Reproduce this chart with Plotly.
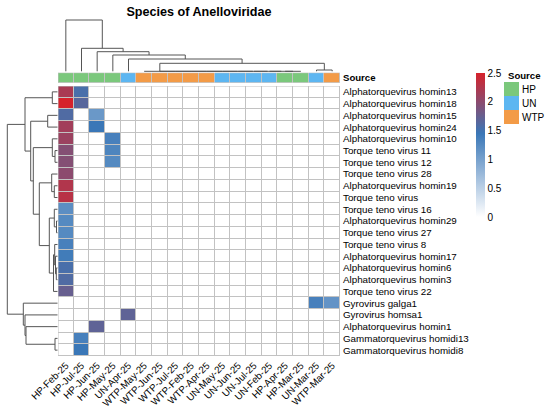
import plotly.graph_objects as go

W, H = 550, 408
FONT = "Liberation Sans, Arial, sans-serif"

# --- data -------------------------------------------------------------
columns = ["HP-Feb-25", "HP-Jul-25", "HP-Jun-25", "HP-May-25", "UN-Apr-25",
           "WTP-May-25", "WTP-Jun-25", "WTP-Jul-25", "WTP-Feb-25", "WTP-Apr-25",
           "UN-May-25", "UN-Jun-25", "UN-Jul-25", "UN-Feb-25", "HP-Apr-25",
           "HP-Mar-25", "UN-Mar-25", "WTP-Mar-25"]

rows = ["Alphatorquevirus homin13", "Alphatorquevirus homin18", "Alphatorquevirus homin15",
        "Alphatorquevirus homin24", "Alphatorquevirus homin10", "Torque teno virus 11",
        "Torque teno virus 12", "Torque teno virus 28", "Alphatorquevirus homin19",
        "Torque teno virus", "Torque teno virus 16", "Alphatorquevirus homin29",
        "Torque teno virus 27", "Torque teno virus 8", "Alphatorquevirus homin17",
        "Alphatorquevirus homin6", "Alphatorquevirus homin3", "Torque teno virus 22",
        "Gyrovirus galga1", "Gyrovirus homsa1", "Alphatorquevirus homin1",
        "Gammatorquevirus homidi13", "Gammatorquevirus homidi8"]

# values per sample (one entry per species, same order as rows); other samples are all 0
hp_feb_25 = [2.2, 2.5, 1.6, 2.15, 2.1, 1.95, 1.95, 2.0, 2.25, 2.3, 1.2, 1.25,
             1.25, 1.35, 1.4, 1.55, 1.6, 1.75, 0, 0, 0, 0, 0]
hp_jul_25 = [1.55, 1.65, 0, 0, 0, 0, 0, 0, 0, 0, 0, 0,
             0, 0, 0, 0, 0, 0, 0, 0, 0, 1.35, 1.45]
hp_jun_25 = [0, 0, 1.1, 1.45, 0, 0, 0, 0, 0, 0, 0, 0,
             0, 0, 0, 0, 0, 0, 0, 0, 1.7, 0, 0]
hp_may_25 = [0, 0, 0, 0, 1.35, 1.3, 1.25, 0, 0, 0, 0, 0,
             0, 0, 0, 0, 0, 0, 0, 0, 0, 0, 0]
un_apr_25 = [0, 0, 0, 0, 0, 0, 0, 0, 0, 0, 0, 0,
             0, 0, 0, 0, 0, 0, 0, 1.7, 0, 0, 0]
un_mar_25 = [0, 0, 0, 0, 0, 0, 0, 0, 0, 0, 0, 0,
             0, 0, 0, 0, 0, 0, 1.35, 0, 0, 0, 0]
wtp_mar_25 = [0, 0, 0, 0, 0, 0, 0, 0, 0, 0, 0, 0,
              0, 0, 0, 0, 0, 0, 1.15, 0, 0, 0, 0]

sample_values = {"HP-Feb-25": hp_feb_25, "HP-Jul-25": hp_jul_25, "HP-Jun-25": hp_jun_25,
                 "HP-May-25": hp_may_25, "UN-Apr-25": un_apr_25, "UN-Mar-25": un_mar_25,
                 "WTP-Mar-25": wtp_mar_25}

sources = ["HP", "UN", "WTP"]
source_colors = ["#7bc87c", "#5db6f1", "#f39b47"]

# hclust-style merges: (left, right, height); leaves 0..n-1, merge k -> id n+k
col_linkage = [(14, 15, 0), (13, 18, 0), (12, 19, 0), (11, 20, 0), (10, 21, 0),
               (9, 22, 0), (8, 23, 0), (7, 24, 0), (6, 25, 0), (5, 26, 0),
               (16, 17, 1.3), (27, 28, 8.0), (4, 29, 12.3), (3, 30, 16.3),
               (2, 31, 19.6), (1, 32, 23.0), (0, 33, 51.3)]
row_linkage = [(0, 1, 5.2), (2, 3, 9.8), (5, 6, 2.5), (4, 25, 5.2), (8, 9, 3.2),
               (7, 27, 5.8), (11, 12, 1.0), (10, 29, 3.2), (15, 16, 1.2), (14, 31, 2.0),
               (13, 32, 2.8), (33, 17, 4.0), (30, 34, 8.2), (28, 35, 18.2), (26, 36, 24.2),
               (24, 37, 26.8), (23, 38, 32.5), (21, 22, 2.5), (20, 40, 31.5),
               (19, 41, 32.5), (18, 42, 34.2), (39, 43, 50.2)]


def dendro(linkage, n):
    pos = {i: float(i) for i in range(n)}
    hgt = {i: 0.0 for i in range(n)}
    p, h = [], []
    for k, (a, b, d) in enumerate(linkage):
        p += [pos[a], pos[a], pos[b], pos[b], None]
        h += [hgt[a], d, d, hgt[b], None]
        pos[n + k] = (pos[a] + pos[b]) / 2
        hgt[n + k] = d
    return p, h


z = [[sample_values.get(c, [0] * len(rows))[r] for c in columns] for r in range(len(rows))]
src_code = [sources.index(c.split("-")[0]) for c in columns]

fig = go.Figure()

# grey cell borders (background) + values
fig.add_trace(go.Heatmap(z=[[1] * len(columns) for _ in rows], colorscale=[[0, "#c2c2c2"], [1, "#c2c2c2"]],
                         showscale=False, hoverinfo="skip", xaxis="x", yaxis="y"))
fig.add_trace(go.Heatmap(
    z=z, x=list(range(len(columns))), y=list(range(len(rows))),
    xgap=1, ygap=1, zmin=0, zmax=2.5,
    colorscale=[[0, "#ffffff"], [0.58, "#3a77b7"], [1, "#d6222b"]],
    colorbar=dict(xref="container", yref="container", x=476 / W, xanchor="left",
                  y=1 - 73 / H, yanchor="top", xpad=0, ypad=0,
                  lenmode="pixels", len=144, thickness=9, outlinewidth=0,
                  tickvals=[0, 0.5, 1, 1.5, 2, 2.5], ticktext=["0", "0.5", "1", "1.5", "2", "2.5"],
                  ticks="", ticklabelposition="outside", tickfont=dict(size=10, color="black")),
    xaxis="x", yaxis="y", hovertemplate="%{z}<extra></extra>"))

# annotation bar
bar_scale = [[0, source_colors[0]], [0.333, source_colors[0]], [0.333, source_colors[1]],
             [0.667, source_colors[1]], [0.667, source_colors[2]], [1, source_colors[2]]]
fig.add_trace(go.Heatmap(z=[[1] * len(columns)], colorscale=[[0, "#c2c2c2"], [1, "#c2c2c2"]],
                         showscale=False, hoverinfo="skip", xaxis="x2", yaxis="y2"))
fig.add_trace(go.Heatmap(z=[src_code], x=list(range(len(columns))), y=[0], zmin=0, zmax=2,
                         xgap=1, colorscale=bar_scale, showscale=False, hoverinfo="skip",
                         xaxis="x2", yaxis="y2"))

# legend swatches
fig.add_trace(go.Heatmap(z=[[i] for i in range(len(sources))], y=list(range(len(sources))),
                         zmin=0, zmax=2, colorscale=bar_scale, showscale=False,
                         hoverinfo="skip", xaxis="x4", yaxis="y4"))

# dendrograms
cx, ch = dendro(col_linkage, len(columns))
fig.add_trace(go.Scatter(x=cx, y=ch, mode="lines", line=dict(color="#555555", width=1),
                         hoverinfo="skip", xaxis="x3", yaxis="y3"))
ry, rh = dendro(row_linkage, len(rows))
fig.add_trace(go.Scatter(x=rh, y=ry, mode="lines", line=dict(color="#555555", width=1),
                         hoverinfo="skip", xaxis="x5", yaxis="y5"))

hm_x = [58 / W, 340 / W]
hm_y = [1 - 356 / H, 1 - 86 / H]
col_range = [-0.5, len(columns) - 0.5]
row_range = [len(rows) - 0.5, -0.5]
hidden = dict(visible=False, showgrid=False, zeroline=False)
tickf = dict(size=9.8, color="black", family=FONT)

fig.update_layout(
    width=W, height=H, autosize=False,
    margin=dict(l=0, r=0, t=0, b=0, autoexpand=False),
    paper_bgcolor="white", plot_bgcolor="white",
    font=dict(family=FONT, color="black"),
    showlegend=False,
    title=dict(text="<b>Species of Anelloviridae</b>", x=199 / W, xanchor="center",
               y=1 - 12 / H, yanchor="middle", font=dict(size=12.6, color="black")),
    xaxis=dict(domain=hm_x, range=col_range, tickvals=list(range(len(columns))), ticktext=columns,
               tickangle=-45, ticks="", showgrid=False, zeroline=False, tickfont=tickf,
               ticklabelstandoff=1, anchor="y"),
    yaxis=dict(domain=hm_y, range=row_range, tickvals=list(range(len(rows))), ticktext=rows,
               side="right", ticks="", showgrid=False, zeroline=False, tickfont=tickf,
               ticklabelstandoff=2, anchor="x"),
    xaxis2=dict(domain=hm_x, range=col_range, anchor="y2", **hidden),
    yaxis2=dict(domain=[1 - 82.7 / H, 1 - 72.7 / H], range=[0.5, -0.5], tickvals=[0],
                ticktext=["<b>Source</b>"], side="right", ticks="", showgrid=False, zeroline=False,
                tickfont=dict(size=9.6, color="black", family=FONT), ticklabelstandoff=2,
                anchor="x2"),
    xaxis3=dict(domain=hm_x, range=col_range, anchor="y3", **hidden),
    yaxis3=dict(domain=[1 - 72 / H, 1], range=[-0.7, 71.3], anchor="x3", **hidden),
    xaxis4=dict(domain=[504 / W, 519 / W], range=[-0.5, 0.5], anchor="y4", **hidden),
    yaxis4=dict(domain=[1 - 124 / H, 1 - 82 / H], range=[2.5, -0.5], tickvals=list(range(len(sources))),
                ticktext=sources, side="right", ticks="", showgrid=False, zeroline=False,
                tickfont=dict(size=10, color="black", family=FONT), ticklabelstandoff=2,
                anchor="x4"),
    xaxis5=dict(domain=[0, 58 / W], range=[57.5, -0.5], anchor="y5", **hidden),
    yaxis5=dict(domain=hm_y, range=row_range, anchor="x5", **hidden),
    annotations=[dict(text="<b>Source</b>", x=506 / W, y=1 - 75.7 / H, xref="paper", yref="paper",
                      xanchor="left", yanchor="middle", showarrow=False,
                      font=dict(size=9.6, color="black"))],
    shapes=[dict(type="rect", xref="x", yref="y", x0=col_range[0], x1=col_range[1],
                 y0=row_range[0], y1=row_range[1], line=dict(color="#c2c2c2", width=1)),
            dict(type="rect", xref="x2", yref="y2", x0=col_range[0], x1=col_range[1],
                 y0=-0.5, y1=0.5, line=dict(color="#c2c2c2", width=1))],
)

# the page's default body margin would shift the figure by 8px
fig.write_html("out.html", config={"displayModeBar": False},
               post_script="document.body.style.margin='0';")
